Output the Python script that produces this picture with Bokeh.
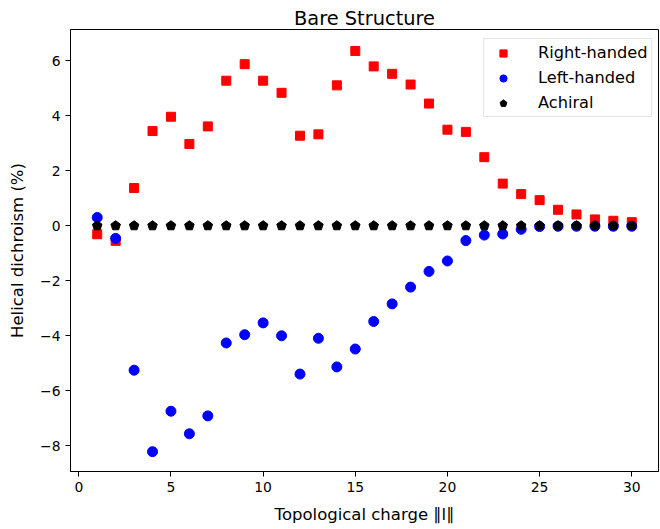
from bokeh.plotting import figure
from bokeh.models import ColumnDataSource, FixedTicker, Range1d, Legend, LegendItem
from bokeh.embed import file_html
from bokeh.resources import INLINE

charge = list(range(1, 31))
right_handed = [-0.31, -0.55, 1.37, 3.44, 3.96, 2.97, 3.61, 5.27, 5.87, 5.27,
                4.83, 3.27, 3.32, 5.10, 6.35, 5.79, 5.52, 5.13, 4.44, 3.49,
                3.41, 2.49, 1.53, 1.15, 0.93, 0.58, 0.41, 0.23, 0.18, 0.13]
left_handed = [0.30, -0.46, -5.25, -8.21, -6.74, -7.56, -6.91, -4.26, -3.96, -3.53,
               -4.00, -5.39, -4.09, -5.13, -4.48, -3.48, -2.84, -2.23, -1.66, -1.28,
               -0.54, -0.34, -0.30, -0.13, -0.03, -0.02, -0.02, -0.02, -0.02, -0.02]
achiral = [0.0] * 30
x_ticks = [0, 5, 10, 15, 20, 25, 30]
y_ticks = [-8, -6, -4, -2, 0, 2, 4, 6]

FONT = "DejaVu Sans"

p = figure(width=660, height=529, output_backend="svg", toolbar_location=None,
           x_range=Range1d(-0.45, 31.45), y_range=Range1d(-8.93, 7.13),
           min_border_left=70, min_border_right=2, min_border_top=29, min_border_bottom=58)

p.title.text = "Bare Structure"
p.title.align = "center"
p.title.text_font = FONT
p.title.text_font_size = "19.4px"
p.title.text_font_style = "normal"
p.title.text_color = "black"
p.title.standoff = 0

src = ColumnDataSource(dict(x=charge, r=right_handed, l=left_handed, a=achiral))

r1 = p.scatter("x", "r", source=src, marker="square", size=9, fill_color="red", line_color="red")
r2 = p.scatter("x", "l", source=src, marker="circle", size=10, fill_color="blue", line_color="blue")
r3 = p.ngon("x", "a", source=src, radius=5, radius_units="screen", n=5,
            angle=0, fill_color="black", line_color="black")

legend = Legend(items=[LegendItem(label="Right-handed", renderers=[r1]),
                       LegendItem(label="Left-handed", renderers=[r2]),
                       LegendItem(label="Achiral", renderers=[r3])],
                location=(413, 354))
legend.label_text_font = FONT
legend.label_text_font_size = "16.2px"
legend.label_text_color = "black"
legend.border_line_color = "#cccccc"
legend.background_fill_alpha = 0.8
legend.margin = 0
legend.padding = 4
legend.spacing = 6
legend.glyph_width = 30
legend.glyph_height = 18
legend.label_height = 18
legend.label_standoff = 20
p.add_layout(legend)

for ax, ticks in ((p.xaxis[0], x_ticks), (p.yaxis[0], y_ticks)):
    ax.ticker = FixedTicker(ticks=ticks)
    ax.major_label_overrides = {t: (str(t).replace("-", "\u2212")) for t in ticks}
    ax.minor_tick_line_color = None
    ax.major_tick_in = 0
    ax.major_tick_out = 5
    ax.major_label_text_font = FONT
    ax.major_label_text_font_size = "13.9px"
    ax.major_label_text_color = "black"
    ax.axis_label_text_font = FONT
    ax.axis_label_text_font_size = "16.5px"
    ax.axis_label_text_font_style = "normal"
    ax.axis_label_text_color = "black"
    ax.axis_line_color = "black"
    ax.major_tick_line_color = "black"

p.xaxis.axis_label = "Topological charge \u2225l\u2225"
p.yaxis.axis_label = "Helical dichroism (%)"
p.xaxis.axis_label_standoff = 10
p.yaxis.axis_label_standoff = 10
p.xgrid.grid_line_color = None
p.ygrid.grid_line_color = None
p.outline_line_color = "black"
p.outline_line_alpha = 1.0

open("out.html", "w").write(file_html(p, INLINE))
